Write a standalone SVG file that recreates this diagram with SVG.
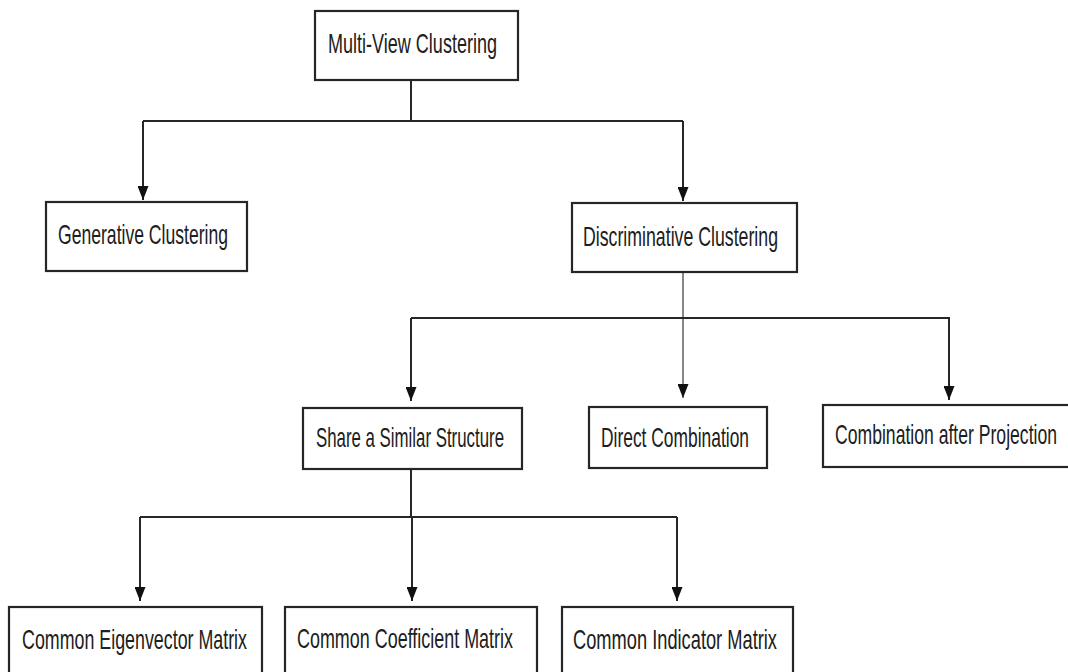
<svg xmlns="http://www.w3.org/2000/svg" width="1068" height="672" viewBox="0 0 1068 672">
<style>
.box{fill:#fff;stroke:#262626;stroke-width:2.2}
.lbl{font-family:"Liberation Sans",Arial,sans-serif;font-size:28px;fill:#202020}
.ln{fill:none;stroke:#262626;stroke-width:2}
.thin{fill:none;stroke:#6a6a6a;stroke-width:1.6}
</style>
<defs>
<marker id="arr" viewBox="0 0 14 11" refX="14" refY="5.5" markerWidth="14" markerHeight="11" orient="auto" markerUnits="userSpaceOnUse">
<path d="M0,0 L14,5.5 L0,11 z" fill="#111"/>
</marker>
</defs>
<rect width="1068" height="672" fill="#fff"/>
<g id="connectors">
<path class="ln" d="M411,80 V121"/>
<path class="ln" d="M143,121 H683"/>
<path class="ln" d="M143,121 V200" marker-end="url(#arr)"/>
<path class="ln" d="M683,121 V201" marker-end="url(#arr)"/>
<path class="thin" d="M683,272 V398" marker-end="url(#arr)"/>
<path class="ln" d="M411,318 H950"/>
<path class="ln" d="M411,318 V401" marker-end="url(#arr)"/>
<path class="ln" d="M949,318 V400" marker-end="url(#arr)"/>
<path class="ln" d="M411,469 V517"/>
<path class="ln" d="M140,517 H677"/>
<path class="ln" d="M140,517 V601" marker-end="url(#arr)"/>
<path class="ln" d="M412,517 V601" marker-end="url(#arr)"/>
<path class="ln" d="M677,517 V601" marker-end="url(#arr)"/>
</g>
<g id="multi-view">
<rect class="box" x="315" y="11" width="203" height="69"/>
<text class="lbl" x="328" y="53" textLength="169" lengthAdjust="spacingAndGlyphs">Multi-View Clustering</text>
</g>
<g id="generative">
<rect class="box" x="46" y="202" width="201" height="69"/>
<text class="lbl" x="58" y="244" textLength="170" lengthAdjust="spacingAndGlyphs">Generative Clustering</text>
</g>
<g id="discriminative">
<rect class="box" x="572" y="203" width="225" height="69"/>
<text class="lbl" x="583" y="246" textLength="195" lengthAdjust="spacingAndGlyphs">Discriminative Clustering</text>
</g>
<g id="share">
<rect class="box" x="303" y="408" width="219" height="61"/>
<text class="lbl" x="316" y="447" textLength="188" lengthAdjust="spacingAndGlyphs">Share a Similar Structure</text>
</g>
<g id="direct">
<rect class="box" x="589" y="407" width="178" height="61"/>
<text class="lbl" x="601" y="447" textLength="148" lengthAdjust="spacingAndGlyphs">Direct Combination</text>
</g>
<g id="projection">
<rect class="box" x="823" y="405" width="260" height="62"/>
<text class="lbl" x="835" y="444" textLength="222" lengthAdjust="spacingAndGlyphs">Combination after Projection</text>
</g>
<g id="eigenvector">
<rect class="box" x="9" y="607" width="253" height="80"/>
<text class="lbl" x="22" y="649" textLength="225" lengthAdjust="spacingAndGlyphs">Common Eigenvector Matrix</text>
</g>
<g id="coefficient">
<rect class="box" x="285" y="607" width="252" height="80"/>
<text class="lbl" x="297" y="648" textLength="216" lengthAdjust="spacingAndGlyphs">Common Coefficient Matrix</text>
</g>
<g id="indicator">
<rect class="box" x="562" y="607" width="231" height="80"/>
<text class="lbl" x="573" y="649" textLength="204" lengthAdjust="spacingAndGlyphs">Common Indicator Matrix</text>
</g>
</svg>
